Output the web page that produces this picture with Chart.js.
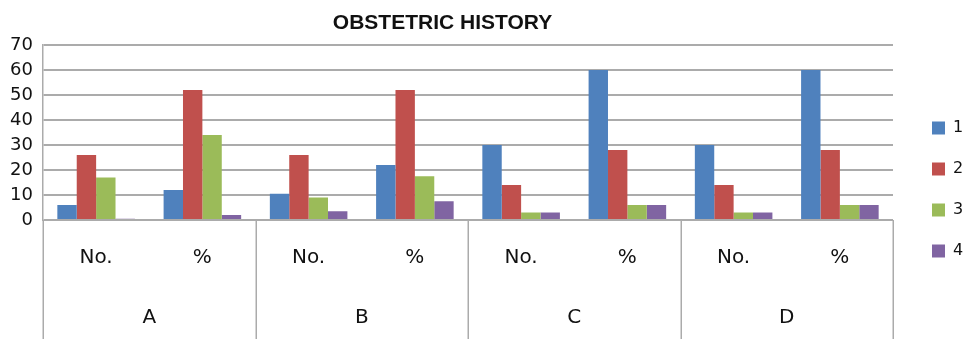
<!DOCTYPE html>
<html>
<head>
<meta charset="utf-8">
<script src="https://cdn.jsdelivr.net/npm/chart.js@4/dist/chart.umd.min.js"></script>
<style>
  html, body { margin: 0; padding: 0; background: #ffffff; }
  #wrap { width: 969px; height: 339px; position: relative; }
</style>
</head>
<body>
<div id="wrap"><canvas id="chart"></canvas></div>
<script>
// Obstetric history: counts (No.) and percentages (%) for four groups
const chartTitle = 'OBSTETRIC HISTORY';
const groups = ['A', 'B', 'C', 'D'];
const categories = ['No.', '%', 'No.', '%', 'No.', '%', 'No.', '%'];
const seriesNames = ['1', '2', '3', '4'];
const series1 = [6, 12, 10.5, 22, 30, 60, 30, 60];
const series2 = [26, 52, 26, 52, 14, 28, 14, 28];
const series3 = [17, 34, 9, 17.5, 3, 6, 3, 6];
const series4 = [0.5, 2, 3.5, 7.5, 3, 6, 3, 6];
const yMin = 0, yMax = 70, yStep = 10;

const colors = ['#4F81BD', '#C0504D', '#9BBB59', '#8064A2'];
const gridColor = '#ababab';

// Vertical dividers between groups below the plot area
const groupDividers = {
  id: 'groupDividers',
  afterDraw(chart) {
    const x = chart.scales.x;
    const ctx = chart.ctx;
    const n = groups.length;
    ctx.save();
    ctx.strokeStyle = gridColor;
    ctx.lineWidth = 1.5;
    for (let i = 0; i <= n; i++) {
      const px = Math.round(x.left + i * (x.right - x.left) / n) + 0.25;
      ctx.beginPath();
      ctx.moveTo(px, chart.chartArea.bottom);
      ctx.lineTo(px, chart.height);
      ctx.stroke();
    }
    ctx.restore();
  }
};

// Chart heading
const heading = {
  id: 'heading',
  afterDraw(chart) {
    const ctx = chart.ctx;
    ctx.save();
    ctx.fillStyle = '#111111';
    ctx.font = 'bold 21px "Liberation Sans", Arial, sans-serif';
    ctx.textAlign = 'center';
    ctx.textBaseline = 'middle';
    ctx.fillText(chartTitle, 442.5, 23);
    ctx.restore();
  }
};

const seriesData = [series1, series2, series3, series4];

new Chart(document.getElementById('chart'), {
  type: 'bar',
  data: {
    labels: categories,
    datasets: seriesNames.map((name, i) => ({
      label: name,
      data: seriesData[i],
      backgroundColor: colors[i],
      borderWidth: 0,
      categoryPercentage: 0.73,
      barPercentage: 1.0
    }))
  },
  options: {
    responsive: true,
    maintainAspectRatio: false,
    animation: false,
    devicePixelRatio: 1,
    layout: { padding: { top: 45, left: 0, right: 0, bottom: 0 } },
    plugins: {
      title: { display: false },
      tooltip: { enabled: false },
      legend: {
        display: true,
        position: 'right',
        align: 'start',
        maxWidth: 62,
        title: { display: true, text: '', font: { size: 10, lineHeight: 1 }, padding: { top: 40, bottom: 0 } },
        labels: {
          boxWidth: 13,
          boxHeight: 13,
          padding: 25,
          color: '#111111',
          font: { family: '"DejaVu Sans", sans-serif', size: 16 }
        }
      }
    },
    scales: {
      x: {
        type: 'category',
        position: 'bottom',
        offset: true,
        grid: { display: false, drawTicks: false },
        border: { display: false },
        ticks: {
          color: '#111111',
          padding: 26,
          maxRotation: 0,
          autoSkip: false,
          font: { family: '"DejaVu Sans", sans-serif', size: 20 }
        },
        afterFit(scale) { scale.height = 70; }
      },
      x2: {
        type: 'category',
        position: 'bottom',
        labels: groups,
        offset: true,
        grid: { display: false, drawTicks: false },
        border: { display: false },
        ticks: {
          color: '#111111',
          padding: 16,
          maxRotation: 0,
          autoSkip: false,
          font: { family: '"DejaVu Sans", sans-serif', size: 20 }
        },
        afterFit(scale) { scale.height = 49; }
      },
      y: {
        type: 'linear',
        position: 'left',
        min: yMin,
        max: yMax,
        ticks: {
          stepSize: yStep,
          color: '#111111',
          padding: 10,
          font: { family: '"DejaVu Sans", sans-serif', size: 18 }
        },
        grid: { color: gridColor, lineWidth: 2, drawTicks: false },
        border: { display: true, color: gridColor, width: 1.5 },
        afterFit(scale) { scale.width = 43; }
      },
      gap: {
        type: 'linear',
        position: 'right',
        display: true,
        grid: { display: false, drawTicks: false },
        border: { display: false },
        ticks: { display: false },
        afterFit(scale) { scale.width = 14; }
      }
    }
  },
  plugins: [groupDividers, heading]
});
</script>
</body>
</html>
